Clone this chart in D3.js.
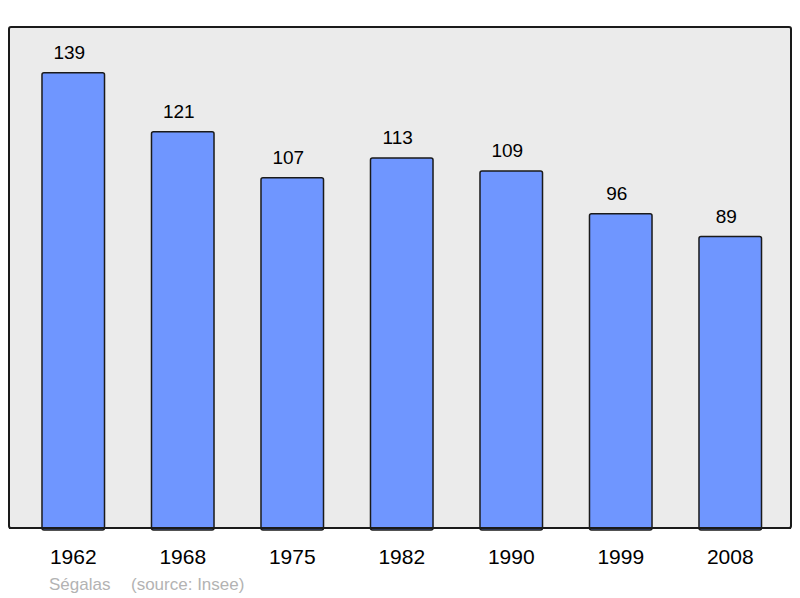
<!DOCTYPE html>
<html><head><meta charset="utf-8">
<script src="https://cdn.jsdelivr.net/npm/d3@7"></script>
<style>body{margin:0;background:#fff}svg{display:block}</style>
</head><body>
<svg id="c" width="800" height="598"></svg>
<script>
const years = ["1962","1968","1975","1982","1990","1999","2008"];
const population = [139,121,107,113,109,96,89];
const commune = "Ségalas";
const source = "(source: Insee)";

const svg = d3.select("#c");
const font = "'Liberation Sans', Arial, sans-serif";
const frame = {x0:9, y0:27, x1:791, y1:528};

svg.append("rect").attr("x",frame.x0).attr("y",frame.y0)
  .attr("width",frame.x1-frame.x0).attr("height",frame.y1-frame.y0)
  .attr("rx",2).attr("fill","#ebebeb").attr("stroke","#1a1a1a").attr("stroke-width",2);

const x = d3.scaleBand().domain(years).range([18.5,785]).paddingInner(0.429).paddingOuter(0.2145);
const y = d3.scaleLinear().domain([0,153]).range([frame.y1,frame.y0]);

const data = years.map((yr,i)=>({yr, v:population[i]}));

svg.selectAll("rect.bar").data(data).enter().append("rect").attr("class","bar")
  .attr("x",d=>x(d.yr)).attr("y",d=>y(d.v))
  .attr("width",x.bandwidth()).attr("height",d=>y(0)-y(d.v)+2)
  .attr("rx",2).attr("fill","#6f96ff").attr("stroke","#1a1a1a").attr("stroke-width",1.5);

// redraw bottom frame line over bars
svg.append("line").attr("x1",frame.x0).attr("x2",frame.x1).attr("y1",frame.y1).attr("y2",frame.y1)
  .attr("stroke","#1a1a1a").attr("stroke-width",2);

svg.selectAll("text.val").data(data).enter().append("text").attr("class","val")
  .attr("x",d=>x(d.yr)+x.bandwidth()/2-4).attr("y",d=>y(d.v)-14)
  .attr("text-anchor","middle").attr("font-family",font).attr("font-size",19).attr("fill","#000")
  .text(d=>d.v);

const xAxis = d3.axisBottom(x).tickSize(0).tickPadding(0);
const gx = svg.append("g").attr("transform",`translate(0,${frame.y1})`).call(xAxis);
gx.select(".domain").remove();
gx.selectAll("text").attr("font-family",font).attr("font-size",21).attr("fill","#000")
  .attr("dy",null).attr("y",35.5).attr("dx",0);

svg.append("text").attr("x",49).attr("y",590).attr("font-family",font).attr("font-size",17)
  .attr("fill","#b3b3b3").text(commune);
svg.append("text").attr("x",131).attr("y",590).attr("font-family",font).attr("font-size",17)
  .attr("fill","#b3b3b3").text(source);
</script>
</body></html>
